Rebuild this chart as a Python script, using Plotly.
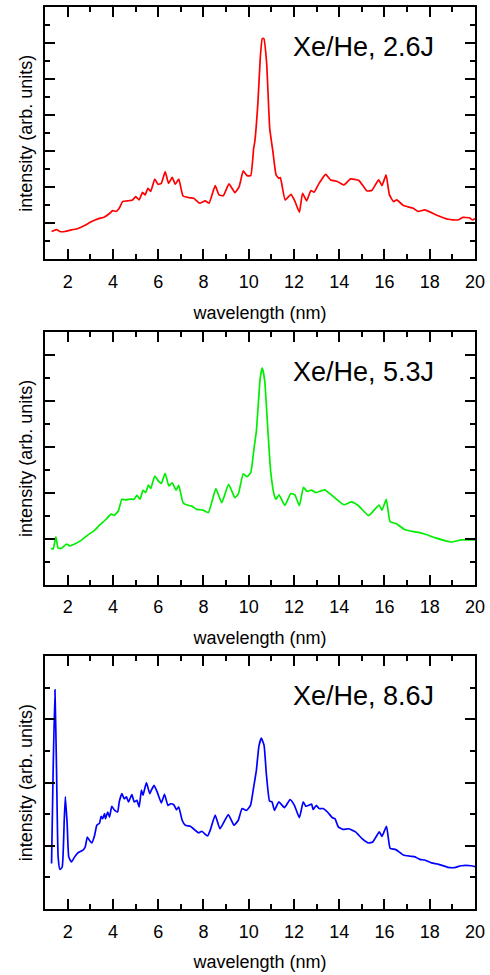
import plotly.graph_objects as go

# ---- data ----
wl_26 = [1.29, 1.51, 1.66, 1.88, 2.17, 2.46, 2.75, 3.04, 3.34, 3.63, 3.85, 3.99, 4.14, 4.28, 4.43,
         4.65, 4.87, 5.01, 5.16, 5.31, 5.42, 5.55, 5.67, 5.85, 5.99, 6.14, 6.31, 6.46, 6.62, 6.76,
         6.91, 7.10, 7.35, 7.57, 7.83, 8.08, 8.25, 8.52, 8.69, 8.88, 9.13, 9.39, 9.58, 9.76, 9.93,
         10.09, 10.22, 10.27, 10.41, 10.51, 10.60, 10.67, 10.79, 10.93, 11.07, 11.21, 11.33, 11.40,
         11.61, 11.87, 12.05, 12.24, 12.38, 12.56, 12.75, 12.89, 13.11, 13.40, 13.62, 13.92, 14.21,
         14.50, 14.87, 15.23, 15.45, 15.74, 15.89, 16.07, 16.22, 16.40, 16.54, 16.84, 17.27, 17.49,
         17.78, 18.29, 18.81, 19.24, 19.46, 19.75, 19.90, 20.0]
int_26 = [1.55, 1.66, 1.55, 1.55, 1.64, 1.72, 1.88, 2.09, 2.25, 2.36, 2.55, 2.71, 2.66, 2.84, 3.21,
          3.25, 3.30, 3.49, 3.30, 3.72, 3.58, 3.95, 3.77, 4.46, 4.17, 4.22, 4.87, 4.22, 4.55, 4.17,
          4.46, 3.52, 3.43, 3.39, 3.12, 3.25, 3.12, 4.09, 3.58, 3.54, 4.19, 3.71, 4.04, 4.91, 4.65,
          4.65, 6.16, 6.53, 8.74, 11.14, 12.25, 12.25, 10.96, 7.27, 5.98, 4.69, 4.50, 4.54,
          3.30, 3.61, 3.21, 2.62, 3.67, 3.25, 3.82, 3.73, 4.22, 4.72, 4.41, 4.32, 4.13,
          4.47, 4.38, 3.80, 3.84, 4.41, 4.10, 4.69, 3.58, 3.21, 3.30, 2.99, 2.84, 2.66,
          2.75, 2.47, 2.23, 2.19, 2.33, 2.31, 2.19, 2.27]

wl_53 = [1.26, 1.36, 1.48, 1.58, 1.73, 1.95, 2.09, 2.31, 2.61, 2.90, 3.19, 3.41, 3.70, 3.92, 4.06,
         4.24, 4.40, 4.58, 4.79, 4.94, 5.06, 5.20, 5.33, 5.45, 5.57, 5.67, 5.85, 6.03, 6.14, 6.31,
         6.47, 6.62, 6.79, 6.91, 7.10, 7.28, 7.49, 7.71, 7.98, 8.22, 8.55, 8.81, 9.11, 9.39, 9.54,
         9.76, 9.93, 10.09, 10.24, 10.34, 10.51, 10.60, 10.71, 10.85, 10.97, 11.12, 11.21, 11.34,
         11.60, 11.86, 12.04, 12.24, 12.42, 12.58, 12.77, 12.97, 13.36, 13.66, 14.21, 14.54, 14.84,
         15.30, 15.76, 15.89, 16.08, 16.25, 16.52, 16.91, 17.24, 17.71, 18.22, 18.95, 19.39, 19.9, 20.0]
int_53 = [1.59, 1.55, 2.08, 1.59, 1.59, 1.77, 1.69, 1.77, 1.94, 2.17, 2.37, 2.59, 2.85, 3.07, 3.02,
          3.21, 3.72, 3.69, 3.73, 3.72, 3.89, 3.72, 4.11, 4.01, 4.34, 4.19, 4.73, 4.49, 4.41, 4.85,
          4.30, 4.44, 4.11, 4.33, 3.57, 3.47, 3.42, 3.28, 3.25, 3.14, 4.18, 3.57, 4.37, 3.79, 3.94,
          4.83, 4.70, 4.88, 5.96, 6.69, 9.00, 9.44, 8.86, 6.69, 4.95, 3.94, 3.72, 3.91,
          3.45, 3.97, 3.91, 3.44, 4.24, 4.06, 4.12, 4.01, 4.13, 3.90, 3.48, 3.61, 3.45,
          3.01, 3.47, 3.24, 3.72, 2.74, 2.66, 2.39, 2.32, 2.23, 2.05, 1.86, 1.95, 1.95, 1.95]

wl_86 = [1.29, 1.36, 1.44, 1.51, 1.58, 1.66, 1.76, 1.85, 1.90, 1.98, 2.05, 2.17, 2.31, 2.46, 2.68,
         2.78, 2.87, 2.97, 3.07, 3.19, 3.29, 3.41, 3.48, 3.55, 3.63, 3.67, 3.77, 3.85, 3.95, 4.06,
         4.21, 4.28, 4.40, 4.50, 4.60, 4.69, 4.84, 4.94, 5.06, 5.16, 5.26, 5.33, 5.48, 5.63, 5.70,
         5.82, 5.96, 6.14, 6.28, 6.43, 6.55, 6.69, 6.81, 6.91, 7.06, 7.20, 7.42, 7.64, 7.79, 7.93,
         8.18, 8.30, 8.52, 8.73, 9.10, 9.35, 9.54, 9.71, 9.90, 10.08, 10.22, 10.34, 10.45, 10.56,
         10.68, 10.78, 10.92, 11.03, 11.14, 11.33, 11.58, 11.83, 12.02, 12.24, 12.41, 12.53, 12.65,
         12.78, 12.85, 12.99, 13.11, 13.29, 13.48, 13.70, 13.81, 13.96, 14.16, 14.43, 14.72, 15.01,
         15.30, 15.48, 15.77, 15.89, 16.09, 16.25, 16.50, 16.83, 17.13, 17.35, 17.56, 17.78, 18.08,
         18.37, 18.80, 19.10, 19.39, 19.83, 20.0]
int_86 = [1.44, 4.39, 6.94, 4.39, 1.65, 1.25, 1.33, 2.81, 3.55, 2.68, 1.65, 1.49, 1.65, 1.78, 1.86,
          1.97, 2.28, 2.17, 2.09, 2.33, 2.65, 2.72, 2.93, 2.86, 3.02, 2.86, 3.07, 2.91, 3.25, 3.14,
          3.07, 3.39, 3.65, 3.49, 3.55, 3.39, 3.62, 3.39, 3.44, 3.23, 3.76, 3.60, 4.00, 3.65, 3.76,
          3.91, 3.70, 3.36, 3.63, 3.28, 3.33, 3.30, 3.14, 3.23, 2.81, 2.65, 2.62, 2.49, 2.41, 2.46,
          2.31, 2.49, 2.97, 2.54, 2.99, 2.65, 2.81, 3.18, 3.12, 3.28, 3.86, 4.39, 5.15, 5.41,
          5.18, 4.28, 3.42, 3.39, 3.12, 3.39, 3.21, 3.46, 3.28, 2.89, 3.39, 3.25, 3.28,
          3.32, 3.15, 3.28, 3.18, 3.18, 3.07, 2.89, 2.86, 2.60, 2.52, 2.54, 2.44, 2.23,
          2.09, 2.12, 2.44, 2.30, 2.62, 1.92, 1.88, 1.71, 1.67, 1.65, 1.57, 1.55, 1.46,
          1.42, 1.32, 1.31, 1.37, 1.37, 1.34]

labels = ["Xe/He, 2.6J", "Xe/He, 5.3J", "Xe/He, 8.6J"]
colors = ["#ff0000", "#00ee00", "#0000ff"]
y_ranges = [[0, 14], [0, 11], [0, 8]]
x_range = [1, 20]
x_title = "wavelength (nm)"
y_title = "intensity (arb. units)"

series = [(wl_26, int_26), (wl_53, int_53), (wl_86, int_86)]
domains = [[0.7201, 1.0], [0.3595, 0.6397], [0.0, 0.2802]]

FONT = "Liberation Sans, Arial, Helvetica, sans-serif"

fig = go.Figure()
for i, ((xs, ys), col) in enumerate(zip(series, colors)):
    n = "" if i == 0 else str(i + 1)
    fig.add_trace(go.Scatter(x=xs, y=ys, mode="lines",
                             line=dict(color=col, width=1.7, shape="spline", smoothing=0.4),
                             xaxis="x" + n, yaxis="y" + n, showlegend=False,
                             hoverinfo="skip"))
    common = dict(showline=True, linecolor="black", linewidth=2, mirror="ticks",
                  ticks="inside", ticklen=10, tickwidth=2, tickcolor="black",
                  showgrid=False, zeroline=False,
                  minor=dict(ticks="inside", ticklen=5, tickwidth=2, tickcolor="black",
                             dtick=1, showgrid=False))
    fig.layout["xaxis" + n] = dict(
        common, domain=[0, 1], anchor="y" + n, range=x_range, tick0=0, dtick=2,
        tickfont=dict(size=18, color="black", family=FONT),
        ticklabelstandoff=5,
        title=dict(text=x_title, font=dict(size=18, color="black", family=FONT), standoff=15))
    fig.layout["yaxis" + n] = dict(
        common, domain=domains[i], anchor="x" + n, range=y_ranges[i], tick0=0, dtick=2,
        showticklabels=False,
        title=dict(text=y_title, font=dict(size=18, color="black", family=FONT), standoff=6))
    fig.add_annotation(text=labels[i], xref=("x" + n) + " domain", yref=("y" + n) + " domain",
                       x=0.571, y=0.843, xanchor="left", yanchor="middle", showarrow=False,
                       font=dict(size=27, color="black", family=FONT))

fig.update_layout(width=490, height=975, margin=dict(l=45, r=11, t=5, b=66),
                  paper_bgcolor="white", plot_bgcolor="white",
                  font=dict(family=FONT, color="black"))

fig.write_html("out.html")
